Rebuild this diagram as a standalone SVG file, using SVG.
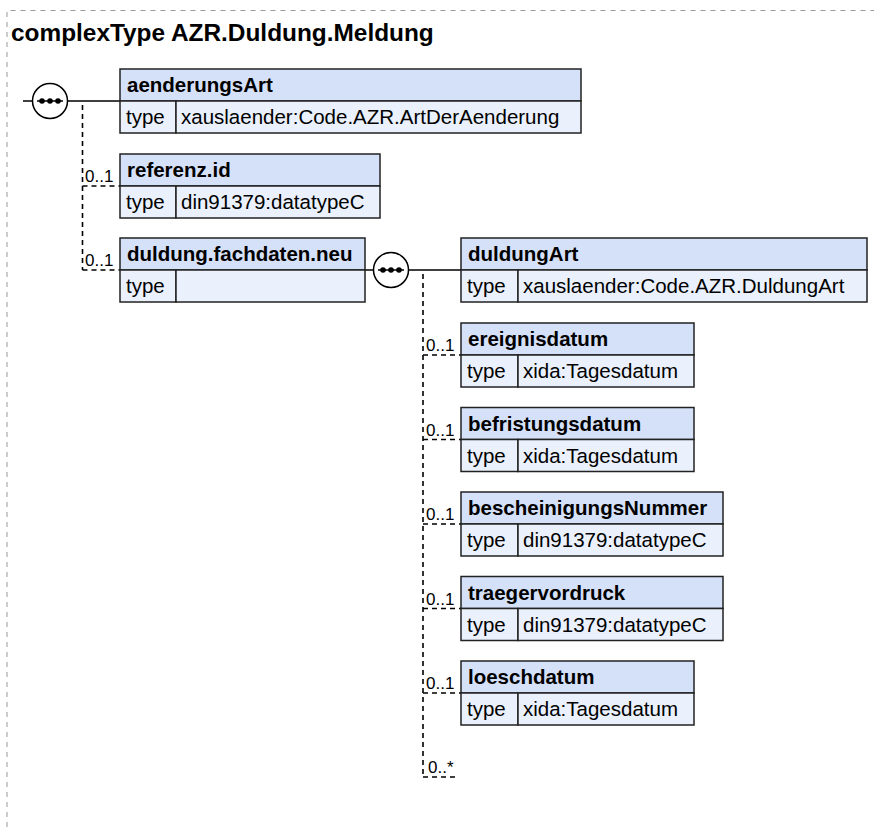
<svg xmlns="http://www.w3.org/2000/svg" width="874" height="827" viewBox="0 0 874 827">
<style>
  .frame { fill: none; stroke: #999; stroke-width: 1; stroke-dasharray: 5,5; }
  .title { font-family: "Liberation Sans", Arial, sans-serif; font-weight: bold; font-size: 24.4px; fill: #000; }
  .hdr { fill: #d5e1f8; stroke: #222; stroke-width: 1.5; }
  .row { fill: #eaf1fc; stroke: #222; stroke-width: 1.5; }
  .name { font-family: "Liberation Sans", Arial, sans-serif; font-weight: bold; font-size: 20.5px; fill: #000; }
  .val { font-family: "Liberation Sans", Arial, sans-serif; font-size: 20.5px; fill: #000; }
  .mult { font-family: "Liberation Sans", Arial, sans-serif; font-size: 17px; fill: #000; }
  .solid { fill: none; stroke: #000; stroke-width: 1.5; }
  .dash { fill: none; stroke: #000; stroke-width: 1.6; stroke-dasharray: 5,4; }
  .seq { fill: #fff; stroke: #000; stroke-width: 1.5; }
  .dot { fill: #000; }
</style>
<defs>
  <g id="seqsym">
    <circle class="seq" cx="0" cy="0" r="17.5"/>
    <line class="solid" x1="-13" y1="0" x2="13" y2="0"/>
    <circle class="dot" cx="-8" cy="0" r="2.8"/>
    <circle class="dot" cx="0" cy="0" r="2.8"/>
    <circle class="dot" cx="8" cy="0" r="2.8"/>
  </g>
</defs>
<rect width="874" height="827" fill="#fff"/>
<path class="frame" d="M7,827 V10.5 H874"/>
<text class="title" x="11" y="41">complexType AZR.Duldung.Meldung</text>

<g id="connectors">
  <line class="solid" x1="23" y1="101" x2="33" y2="101"/>
  <line class="solid" x1="68" y1="101" x2="120" y2="101"/>
  <path class="dash" d="M82.5,105 V270"/>
  <line class="dash" x1="82.5" y1="186" x2="120" y2="186"/>
  <line class="dash" x1="82.5" y1="270" x2="120" y2="270"/>
  <text class="mult" x="85" y="182">0..1</text>
  <text class="mult" x="85" y="266">0..1</text>

  <line class="solid" x1="365" y1="270" x2="374" y2="270"/>
  <line class="solid" x1="409" y1="270" x2="461" y2="270"/>
  <path class="dash" d="M423,274 V777"/>
  <line class="dash" x1="423" y1="355" x2="461" y2="355"/>
  <line class="dash" x1="423" y1="439.5" x2="461" y2="439.5"/>
  <line class="dash" x1="423" y1="524" x2="461" y2="524"/>
  <line class="dash" x1="423" y1="608.5" x2="461" y2="608.5"/>
  <line class="dash" x1="423" y1="693" x2="461" y2="693"/>
  <line class="dash" x1="423" y1="777" x2="459" y2="777"/>
  <text class="mult" x="426" y="351">0..1</text>
  <text class="mult" x="426" y="435.5">0..1</text>
  <text class="mult" x="426" y="520">0..1</text>
  <text class="mult" x="426" y="604.5">0..1</text>
  <text class="mult" x="426" y="689">0..1</text>
  <text class="mult" x="428" y="773">0..*</text>
</g>

<g id="seq1"><use href="#seqsym" x="50" y="101"/></g>
<g id="seq2"><use href="#seqsym" x="391" y="270"/></g>

<g id="aenderungsArt">
  <rect class="hdr" x="120" y="69" width="461" height="32"/>
  <rect class="row" x="120" y="101" width="56" height="32"/>
  <rect class="row" x="176" y="101" width="405" height="32"/>
  <text class="name" x="127" y="92">aenderungsArt</text>
  <text class="val" x="126" y="124">type</text>
  <text class="val" x="181" y="124">xauslaender:Code.AZR.ArtDerAenderung</text>
</g>

<g id="referenz.id">
  <rect class="hdr" x="120" y="154" width="260" height="32"/>
  <rect class="row" x="120" y="186" width="56" height="32"/>
  <rect class="row" x="176" y="186" width="204" height="32"/>
  <text class="name" x="127" y="177">referenz.id</text>
  <text class="val" x="126" y="209">type</text>
  <text class="val" x="181" y="209">din91379:datatypeC</text>
</g>

<g id="duldung.fachdaten.neu">
  <rect class="hdr" x="120" y="238" width="245" height="32"/>
  <rect class="row" x="120" y="270" width="56" height="32"/>
  <rect class="row" x="176" y="270" width="189" height="32"/>
  <text class="name" x="127" y="261">duldung.fachdaten.neu</text>
  <text class="val" x="126" y="293">type</text>
</g>

<g id="duldungArt">
  <rect class="hdr" x="461" y="238" width="406" height="32"/>
  <rect class="row" x="461" y="270" width="57" height="32"/>
  <rect class="row" x="518" y="270" width="349" height="32"/>
  <text class="name" x="468" y="261">duldungArt</text>
  <text class="val" x="467" y="293">type</text>
  <text class="val" x="523" y="293">xauslaender:Code.AZR.DuldungArt</text>
</g>

<g id="ereignisdatum">
  <rect class="hdr" x="461" y="323" width="233" height="32"/>
  <rect class="row" x="461" y="355" width="57" height="32"/>
  <rect class="row" x="518" y="355" width="176" height="32"/>
  <text class="name" x="468" y="346">ereignisdatum</text>
  <text class="val" x="467" y="378">type</text>
  <text class="val" x="523" y="378">xida:Tagesdatum</text>
</g>

<g id="befristungsdatum">
  <rect class="hdr" x="461" y="407.5" width="233" height="32"/>
  <rect class="row" x="461" y="439.5" width="57" height="32"/>
  <rect class="row" x="518" y="439.5" width="176" height="32"/>
  <text class="name" x="468" y="430.5">befristungsdatum</text>
  <text class="val" x="467" y="462.5">type</text>
  <text class="val" x="523" y="462.5">xida:Tagesdatum</text>
</g>

<g id="bescheinigungsNummer">
  <rect class="hdr" x="461" y="492" width="262" height="32"/>
  <rect class="row" x="461" y="524" width="57" height="32"/>
  <rect class="row" x="518" y="524" width="205" height="32"/>
  <text class="name" x="468" y="515">bescheinigungsNummer</text>
  <text class="val" x="467" y="547">type</text>
  <text class="val" x="523" y="547">din91379:datatypeC</text>
</g>

<g id="traegervordruck">
  <rect class="hdr" x="461" y="576.5" width="262" height="32"/>
  <rect class="row" x="461" y="608.5" width="57" height="32"/>
  <rect class="row" x="518" y="608.5" width="205" height="32"/>
  <text class="name" x="468" y="599.5">traegervordruck</text>
  <text class="val" x="467" y="631.5">type</text>
  <text class="val" x="523" y="631.5">din91379:datatypeC</text>
</g>

<g id="loeschdatum">
  <rect class="hdr" x="461" y="661" width="233" height="32"/>
  <rect class="row" x="461" y="693" width="57" height="32"/>
  <rect class="row" x="518" y="693" width="176" height="32"/>
  <text class="name" x="468" y="684">loeschdatum</text>
  <text class="val" x="467" y="716">type</text>
  <text class="val" x="523" y="716">xida:Tagesdatum</text>
</g>
</svg>
